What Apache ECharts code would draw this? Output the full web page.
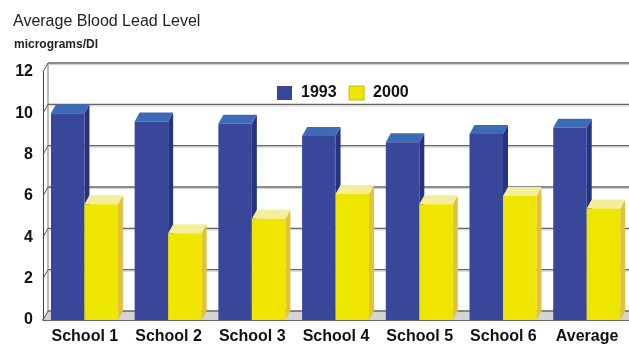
<!DOCTYPE html>
<html>
<head>
<meta charset="utf-8">
<script src="https://cdn.jsdelivr.net/npm/echarts@6/dist/echarts.min.js"></script>
<style>
  html, body { margin: 0; padding: 0; background: #fff; }
  #chart { width: 629px; height: 345px; }
</style>
</head>
<body>
<div id="chart"></div>
<script>
// Average blood lead level by school, 1993 vs 2000
var categories = ['School 1', 'School 2', 'School 3', 'School 4', 'School 5', 'School 6', 'Average'];
var values1993 = [10.0, 9.6, 9.5, 8.9, 8.6, 9.0, 9.3];
var values2000 = [5.6, 4.2, 4.9, 6.1, 5.6, 6.0, 5.4];
var yTicks = [0, 2, 4, 6, 8, 10, 12];

// depth of the pseudo-3D extrusion in pixels
var DX = 5, DY = -9;

var palettes = [
  { front: '#39479a', side: '#27337c', top: '#3d6bb6' },
  { front: '#efe600', side: '#e3c13a', top: '#f4ee9c' }
];

function barRenderer(k) {
  return function (params, api) {
    var idx = api.value(0);
    var val = api.value(1);
    var base = api.coord([idx, 0]);
    var top = api.coord([idx, val]);
    var band = api.size([1, 0])[0];
    var x0 = base[0] - band / 2 + band * (0.095 + k * 0.4);
    var x1 = x0 + band * 0.4;
    var yb = base[1], yt = top[1];
    var c = palettes[k];
    return {
      type: 'group',
      children: [
        { type: 'polygon', shape: { points: [[x1, yt], [x1 + DX, yt + DY], [x1 + DX, yb + DY], [x1, yb]] },
          style: { fill: c.side } },
        { type: 'polygon', shape: { points: [[x0, yt], [x0 + DX, yt + DY], [x1 + DX, yt + DY], [x1, yt]] },
          style: { fill: c.top } },
        { type: 'rect', shape: { x: x0, y: yt, width: x1 - x0, height: yb - yt },
          style: { fill: c.front } }
      ]
    };
  };
}

// back wall gridlines, left side wall ticks and the floor
function wallRenderer(params, api) {
  var cs = params.coordSys;
  var v = api.value(0);
  var y = api.coord([0, v])[1];
  var xl = cs.x, xr = cs.x + cs.width;
  var kids = [
    { type: 'line', shape: { x1: xl + DX, y1: y + DY + 1.5, x2: xr + DX, y2: y + DY + 1.5 },
      style: { stroke: '#d2d2d2', lineWidth: 1.2 } },
    { type: 'line', shape: { x1: xl + DX, y1: y + DY, x2: xr + DX, y2: y + DY },
      style: { stroke: '#666', lineWidth: 1.3 } },
    { type: 'line', shape: { x1: xl, y1: y, x2: xl + DX, y2: y + DY },
      style: { stroke: '#555', lineWidth: 1 } }
  ];
  if (v === 0) {
    var yTop = api.coord([0, yTicks[yTicks.length - 1]])[1];
    kids.unshift({ type: 'polygon',
      shape: { points: [[xl, y], [xl + DX, y + DY], [xr + DX, y + DY], [xr, y]] },
      style: { fill: '#d4d4d4' } });
    kids.push({ type: 'line', shape: { x1: xl + DX, y1: y + DY, x2: xl + DX, y2: yTop + DY },
      style: { stroke: '#777', lineWidth: 1 } });
  }
  return { type: 'group', children: kids };
}

var chart = echarts.init(document.getElementById('chart'), null, { renderer: 'canvas' });

chart.setOption({
  backgroundColor: '#fff',
  animation: false,
  title: [
    { text: 'Average Blood Lead Level', left: 8, top: 9,
      textStyle: { fontFamily: 'Liberation Sans, Arial, sans-serif', fontSize: 16, fontWeight: 'normal', color: '#222' } },
    { text: 'micrograms/Dl', left: 9, top: 34,
      textStyle: { fontFamily: 'Liberation Sans, Arial, sans-serif', fontSize: 12, fontWeight: 'bold', color: '#222' } }
  ],
  legend: {
    left: 272, top: 80,
    itemWidth: 15, itemHeight: 14, itemGap: 12,
    icon: 'rect',
    data: [
      { name: '1993', itemStyle: { color: palettes[0].front } },
      { name: '2000', itemStyle: { color: palettes[1].front, borderColor: '#c9b800', borderWidth: 1 } }
    ],
    textStyle: { fontFamily: 'Liberation Sans, Arial, sans-serif', fontSize: 16, fontWeight: 'bold', color: '#111', padding: [0, 0, 0, 4] }
  },
  grid: { left: 43, top: 72, width: 586, height: 248.5 },
  xAxis: {
    type: 'category', data: categories,
    axisLine: { show: true, lineStyle: { color: '#333', width: 1.5 } },
    axisTick: { show: false },
    axisLabel: { interval: 0, hideOverlap: false, margin: 9,
      fontFamily: 'Liberation Sans, Arial, sans-serif', fontSize: 16, fontWeight: 'bold', color: '#111' }
  },
  yAxis: {
    type: 'value', min: 0, max: 12, interval: 2,
    axisLine: { show: true, lineStyle: { color: '#444', width: 1 } },
    axisTick: { show: false },
    splitLine: { show: false },
    axisLabel: { margin: 10, fontFamily: 'Liberation Sans, Arial, sans-serif', fontSize: 16, fontWeight: 'bold', color: '#111' }
  },
  series: [
    { type: 'custom', name: 'wall', silent: true, z: 1,
      renderItem: wallRenderer, encode: { y: 0 },
      data: yTicks.map(function (v) { return [v]; }) },
    { type: 'custom', name: '1993', z: 2, itemStyle: { color: palettes[0].front },
      renderItem: barRenderer(0), encode: { x: 0, y: 1 },
      data: values1993.map(function (v, i) { return [i, v]; }) },
    { type: 'custom', name: '2000', z: 3, itemStyle: { color: palettes[1].front },
      renderItem: barRenderer(1), encode: { x: 0, y: 1 },
      data: values2000.map(function (v, i) { return [i, v]; }) }
  ]
});
</script>
</body>
</html>
